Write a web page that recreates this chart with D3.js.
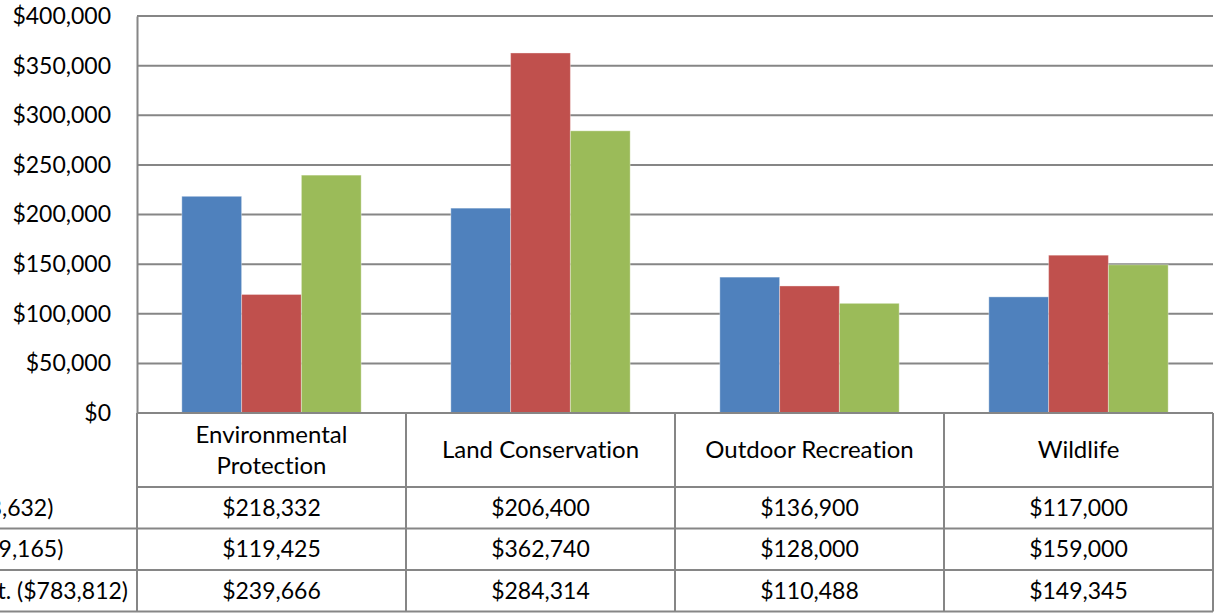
<!DOCTYPE html>
<html>
<head>
<meta charset="utf-8">
<script src="https://cdn.jsdelivr.net/npm/d3@7"></script>
<style>
  body { margin: 0; background: #fff; }
  svg { display: block; font-family: Lato, "Open Sans", sans-serif; font-variant-ligatures: none; }
</style>
</head>
<body>
<div id="chart"></div>
<script>
const categories = ["Environmental Protection", "Land Conservation", "Outdoor Recreation", "Wildlife"];
const seriesNames = ["2010 Actual ($678,632)", "2011 Actuals ($769,165)", "2012 Proposed Est. ($783,812)"];
const series1 = [218332, 206400, 136900, 117000];
const series2 = [119425, 362740, 128000, 159000];
const series3 = [239666, 284314, 110488, 149345];
const yTicks = [0, 50000, 100000, 150000, 200000, 250000, 300000, 350000, 400000];

const colors = ["#4F81BD", "#C0504D", "#9BBB59"];
const allSeries = [series1, series2, series3];

const W = 1220, H = 613;
const plot = { left: 137, right: 1213, top: 16, bottom: 413 };
const headerH = 74, rowH = 41.5;
const gridColor = "#868686";
const fontSize = 23;

const fmt = d3.format("$,.0f");

const svg = d3.select("#chart").append("svg")
  .attr("width", W).attr("height", H);

const x0 = d3.scaleBand().domain(categories).range([plot.left, plot.right]);
const x1 = d3.scaleBand().domain(d3.range(allSeries.length))
  .range([0, x0.bandwidth()]).paddingOuter(0.75);
const y = d3.scaleLinear().domain([0, 400000]).range([plot.bottom, plot.top]);

// gridlines
svg.append("g")
  .selectAll("line")
  .data(yTicks.filter(d => d > 0))
  .join("line")
  .attr("x1", plot.left).attr("x2", plot.right)
  .attr("y1", d => y(d)).attr("y2", d => y(d))
  .attr("stroke", gridColor).attr("stroke-width", 2);

// y axis
const yAxisG = svg.append("g")
  .attr("transform", `translate(${plot.left},0)`)
  .call(d3.axisLeft(y).tickValues(yTicks).tickFormat(d => fmt(d)).tickSize(0).tickPadding(26));
yAxisG.select(".domain").attr("stroke", gridColor).attr("stroke-width", 2);
yAxisG.selectAll("text")
  .attr("font-size", fontSize).attr("fill", "#000")
  .attr("font-family", "Lato, sans-serif");

// bars
const groups = svg.append("g")
  .selectAll("g")
  .data(categories)
  .join("g")
  .attr("transform", d => `translate(${x0(d)},0)`);

groups.selectAll("rect")
  .data((d, i) => allSeries.map((s, k) => ({ k, v: s[i] })))
  .join("rect")
  .attr("x", d => x1(d.k))
  .attr("width", x1.bandwidth())
  .attr("y", d => y(d.v))
  .attr("height", d => y(0) - y(d.v))
  .attr("fill", d => colors[d.k])
  .attr("stroke", "#fff").attr("stroke-opacity", 0.35).attr("stroke-width", 1);

// data table
const table = svg.append("g");
const tableBottom = plot.bottom + headerH + rowH * allSeries.length;

// horizontal lines
const rowLines = [plot.bottom].concat(d3.range(allSeries.length + 1).map(i => plot.bottom + headerH + rowH * i));
table.selectAll("line.h")
  .data(rowLines)
  .join("line")
  .attr("class", "h")
  .attr("x1", (d, i) => i < 2 ? plot.left : -200)
  .attr("x2", plot.right)
  .attr("y1", d => d).attr("y2", d => d)
  .attr("stroke", gridColor).attr("stroke-width", 2);

// vertical lines
const colLines = categories.map(c => x0(c)).concat([plot.right]);
table.selectAll("line.v")
  .data(colLines)
  .join("line")
  .attr("class", "v")
  .attr("x1", d => d).attr("x2", d => d)
  .attr("y1", plot.bottom).attr("y2", tableBottom)
  .attr("stroke", gridColor).attr("stroke-width", 2);

// header labels (wrap Environmental Protection)
const headerCy = plot.bottom + headerH / 2;
table.selectAll("text.cat")
  .data(categories)
  .join("text")
  .attr("class", "cat")
  .attr("x", d => x0(d) + x0.bandwidth() / 2)
  .attr("y", headerCy)
  .attr("text-anchor", "middle")
  .attr("font-size", 24)
  .each(function (d) {
    const t = d3.select(this);
    const words = d.split(" ");
    const lines = (d.length > 20) ? [words[0], words.slice(1).join(" ")] : [d];
    lines.forEach((ln, j) => {
      t.append("tspan")
        .attr("x", x0(d) + x0.bandwidth() / 2)
        .attr("dy", j === 0 ? (0.35 - (lines.length - 1) * 0.65) + "em" : "1.3em")
        .text(ln);
    });
  });

// data rows
allSeries.forEach((s, k) => {
  const cy = plot.bottom + headerH + rowH * k + rowH / 2;
  table.append("g")
    .selectAll("text")
    .data(s)
    .join("text")
    .attr("x", (d, i) => x0(categories[i]) + x0.bandwidth() / 2)
    .attr("y", cy)
    .attr("dy", "0.35em")
    .attr("text-anchor", "middle")
    .attr("font-size", fontSize)
    .text(d => fmt(d));
});

// series names (left column, cut off by the page edge as in the source)
const nameG = table.append("g");
const names = nameG.selectAll("text")
  .data(seriesNames)
  .join("text")
  .attr("y", (d, k) => plot.bottom + headerH + rowH * k + rowH / 2)
  .attr("dy", "0.35em")
  .attr("font-size", fontSize)
  .text(d => d);
const longest = names.nodes()[2].getComputedTextLength();
names.attr("x", 128 - longest);
</script>
</body>
</html>
